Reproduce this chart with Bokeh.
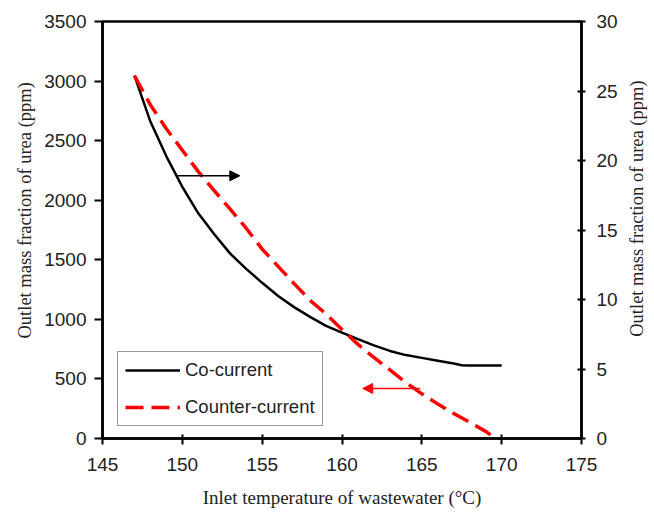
import math
from bokeh.plotting import figure
from bokeh.models import (Range1d, LinearAxis, SingleIntervalTicker, Arrow, NormalHead,
                          Legend, LegendItem, Title)
from bokeh.embed import file_html
from bokeh.resources import INLINE

# Co-current (right axis, ppm scale 0-30)
co_x = [147, 148, 149, 150, 151, 152, 153, 154, 155, 156, 157, 158, 159, 160,
        161, 162, 163, 164, 165, 166, 167, 167.5, 168, 169, 170]
co_y = [26.1, 22.8, 20.3, 18.1, 16.2, 14.7, 13.3, 12.2, 11.2, 10.25, 9.45, 8.75, 8.1, 7.62,
        7.15, 6.7, 6.3, 6.0, 5.8, 5.6, 5.4, 5.27, 5.25, 5.25, 5.25]

# Counter-current (left axis, ppm scale 0-3500)
cc_x = [147, 148, 149, 150, 151, 152, 153, 154, 155, 156, 157, 158, 159, 160,
        161, 162, 163, 164, 165, 166, 167, 168, 169, 169.3]
cc_y = [3045, 2800, 2600, 2420, 2240, 2080, 1925, 1765, 1590, 1445, 1300, 1160, 1045, 915,
        790, 680, 575, 470, 375, 290, 210, 135, 60, 30]

x_lo, x_hi = 145, 175
yl_lo, yl_hi = 0, 3500
yr_lo, yr_hi = 0, 30

x_title = "Inlet temperature of wastewater (°C)"
y_title = "Outlet mass fraction of urea (ppm)"

# annotation arrows (data coords)
black_arrow = dict(x_start=149.6, x_end=153.6, y=2205)
red_arrow = dict(x_start=164.9, x_end=161.3, y=420)

SANS = "Liberation Sans"
SERIF = "Liberation Serif"

p = figure(frame_width=479, frame_height=417, output_backend="svg", toolbar_location=None,
           x_range=Range1d(x_lo, x_hi), y_range=Range1d(yl_lo, yl_hi),
           min_border_left=102, min_border_right=73, min_border_top=21, min_border_bottom=76)
p.extra_y_ranges = {"right": Range1d(yr_lo, yr_hi)}
p.xgrid.visible = False
p.ygrid.visible = False
p.outline_line_color = "black"
p.outline_line_width = 2.5
p.background_fill_color = "white"
p.border_fill_color = "white"

r_co = p.line(co_x, co_y, y_range_name="right", line_color="black", line_width=2.5)
r_cc = p.line(cc_x, cc_y, line_color="red", line_width=3.5, line_dash="18 8")

# axes
xa = p.xaxis[0]
xa.ticker = SingleIntervalTicker(interval=5)
xa.axis_label = x_title
ya = p.yaxis[0]
ya.ticker = SingleIntervalTicker(interval=500)
# right-hand label reads bottom-to-top and starts ~100 px above the frame bottom
ra = LinearAxis(y_range_name="right", ticker=SingleIntervalTicker(interval=5),
                axis_label="\u00a0" * 22 + y_title)
p.add_layout(ra, "right")

for ax in (xa, ya, ra):
    ax.axis_line_width = 2.5
    ax.axis_line_color = "black"
    ax.major_tick_line_width = 2
    ax.major_tick_line_color = "black"
    ax.minor_tick_line_color = None
    ax.major_label_text_font = SANS
    ax.major_label_text_font_size = "19px"
    ax.major_label_text_color = "#222222"
    ax.axis_label_text_font = SERIF
    ax.axis_label_text_font_style = "normal"
    ax.axis_label_text_color = "#222222"

xa.axis_label_text_font_size = "19px"
xa.major_tick_in = 4
xa.major_tick_out = 6
xa.major_label_standoff = 13
xa.axis_label_standoff = 13
ya.major_tick_in = 0
ya.major_tick_out = 8
ya.major_label_standoff = 8
ra.major_tick_in = 4
ra.major_tick_out = 4
ra.major_label_standoff = 11
ra.axis_label_standoff = 16
ra.axis_label_text_font_size = "18.5px"
ra.axis_label_orientation = math.pi / 2
ra.axis_label_align = "start"

# left vertical title: starts 100 px above the frame bottom, as in the original
p.add_layout(Title(text=y_title, align="left", offset=100, standoff=14,
                   text_font=SERIF, text_font_style="normal", text_font_size="18.5px",
                   text_color="#222222"), "left")

# arrows
p.add_layout(Arrow(end=NormalHead(size=10, fill_color="black", line_color="black"),
                   x_start=black_arrow["x_start"], y_start=black_arrow["y"],
                   x_end=black_arrow["x_end"], y_end=black_arrow["y"],
                   line_color="black", line_width=1.5))
p.add_layout(Arrow(end=NormalHead(size=10, fill_color="red", line_color="red"),
                   x_start=red_arrow["x_start"], y_start=red_arrow["y"],
                   x_end=red_arrow["x_end"], y_end=red_arrow["y"],
                   line_color="red", line_width=1.5))

legend = Legend(items=[LegendItem(label="Co-current", renderers=[r_co]),
                       LegendItem(label="Counter-current", renderers=[r_cc])],
                location=(15, 12), orientation="vertical")
legend.label_text_font = SANS
legend.label_text_font_size = "18.5px"
legend.label_text_color = "#222222"
legend.glyph_width = 55
legend.glyph_height = 20
legend.label_height = 20
legend.spacing = 15
legend.padding = 7
legend.margin = 0
legend.label_standoff = 5
legend.border_line_color = "#333333"
legend.border_line_width = 1
legend.background_fill_alpha = 1
p.add_layout(legend, "center")

open("out.html", "w").write(file_html(p, INLINE))
